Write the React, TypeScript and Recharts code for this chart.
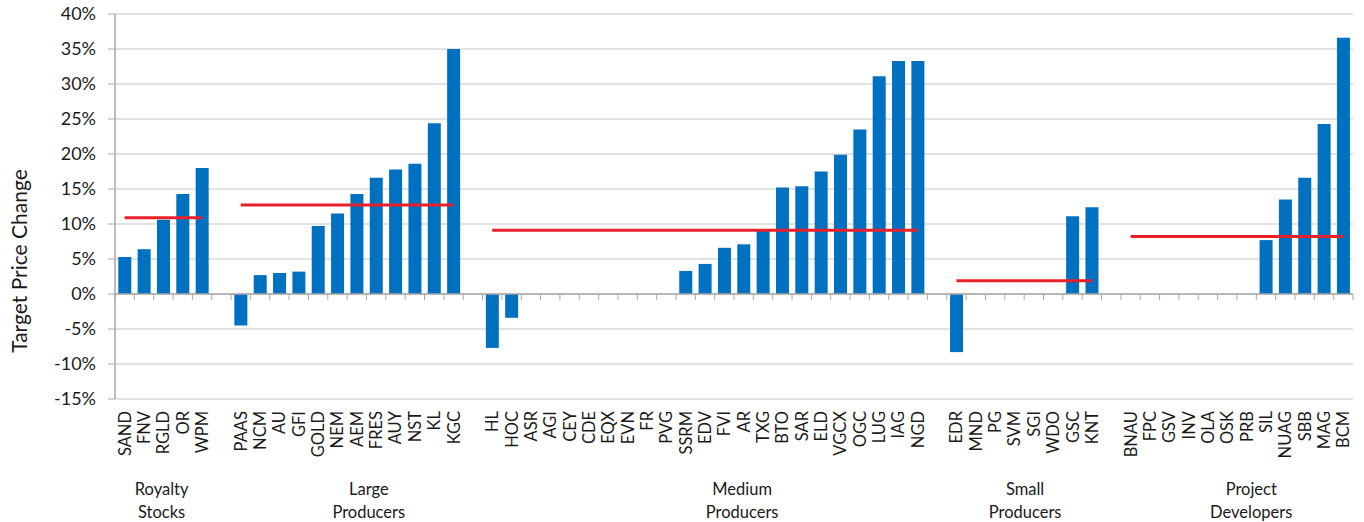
import React from 'react';
import {
  ComposedChart,
  Bar,
  Line,
  XAxis,
  YAxis,
  CartesianGrid,
  ReferenceLine,
} from 'recharts';

// Target price change (%) by company, grouped by company type
const royaltyTickers = ['SAND', 'FNV', 'RGLD', 'OR', 'WPM'];
const royaltyValues = [5.3, 6.4, 10.6, 14.3, 18.0];

const largeTickers = ['PAAS', 'NCM', 'AU', 'GFI', 'GOLD', 'NEM', 'AEM', 'FRES', 'AUY', 'NST', 'KL', 'KGC'];
const largeValues = [-4.5, 2.7, 3.0, 3.2, 9.7, 11.5, 14.3, 16.6, 17.8, 18.6, 24.4, 35.0];

const mediumTickers = [
  'HL', 'HOC', 'ASR', 'AGI', 'CEY', 'CDE', 'EQX', 'EVN', 'FR', 'PVG', 'SSRM', 'EDV',
  'FVI', 'AR', 'TXG', 'BTO', 'SAR', 'ELD', 'VGCX', 'OGC', 'LUG', 'IAG', 'NGD',
];
const mediumValues = [
  -7.7, -3.4, 0, 0, 0, 0, 0, 0, 0, 0, 3.3, 4.3,
  6.6, 7.1, 9.1, 15.2, 15.4, 17.5, 19.9, 23.5, 31.1, 33.3, 33.3,
];

const smallTickers = ['EDR', 'MND', 'PG', 'SVM', 'SGI', 'WDO', 'GSC', 'KNT'];
const smallValues = [-8.3, 0, 0, 0, 0, 0, 11.1, 12.4];

const developerTickers = ['BNAU', 'FPC', 'GSV', 'INV', 'OLA', 'OSK', 'PRB', 'SIL', 'NUAG', 'SBB', 'MAG', 'BCM'];
const developerValues = [0, 0, 0, 0, 0, 0, 0, 7.7, 13.5, 16.6, 24.3, 36.6];

// Group average target price change (%)
const groupAverages = [10.9, 12.7, 9.1, 1.9, 8.2];

const groupTitles = [
  ['Royalty', 'Stocks'],
  ['Large', 'Producers'],
  ['Medium', 'Producers'],
  ['Small', 'Producers'],
  ['Project', 'Developers'],
];

const yTicks = [-15, -10, -5, 0, 5, 10, 15, 20, 25, 30, 35, 40];

// Layout
const CHART_W = 1364;
const CHART_H = 522;
const MARGIN = { top: 14, right: 11, bottom: 8, left: 0 };
const Y_AXIS_W = 115;
const PLOT_W = CHART_W - MARGIN.left - MARGIN.right - Y_AXIS_W;
const FONT = 'Lato, "Open Sans", sans-serif';
const BAR_COLOR = '#0070C0';
const AVG_COLOR = '#E8202A';
const AXIS_COLOR = '#A9A9A9';
const GRID_COLOR = '#D9D9D9';
const TEXT_COLOR = '#1a1a1a';
// Centre of each group caption, in category slots from the left edge of the plot
const GROUP_CAPTION_SLOTS = [2.41, 13.12, 32.42, 47.05, 58.74];

const groups = [
  { tickers: royaltyTickers, values: royaltyValues },
  { tickers: largeTickers, values: largeValues },
  { tickers: mediumTickers, values: mediumValues },
  { tickers: smallTickers, values: smallValues },
  { tickers: developerTickers, values: developerValues },
];

type Row = { name: string; value: number | null; [k: string]: number | string | null };

// One row per company, with an empty slot between groups
const rows: Row[] = [];
groups.forEach((g, gi) => {
  if (gi > 0) rows.push({ name: '', value: null });
  g.tickers.forEach((t, i) => {
    const row: Row = { name: t, value: g.values[i] };
    row[`avg${gi}`] = groupAverages[gi];
    rows.push(row);
  });
});

const CATEGORY_COUNT = rows.length;
const BAND = PLOT_W / CATEGORY_COUNT;

// Ticker label, plus the group caption anchored to the category nearest to it
const CategoryTick = (props: any) => {
  const { x, y, payload, index } = props;
  const ty = y + 4;
  const gi = GROUP_CAPTION_SLOTS.findIndex((s) => Math.floor(s) === index);
  let caption = null;
  if (gi >= 0) {
    const cx = x + (GROUP_CAPTION_SLOTS[gi] - index - 0.5) * BAND;
    const [l1, l2] = groupTitles[gi];
    caption = (
      <text textAnchor="middle" fontFamily={FONT} fontSize={16.5} fill={TEXT_COLOR}>
        <tspan x={cx} y={y + 88}>{l1}</tspan>
        <tspan x={cx} y={y + 110.5}>{l2}</tspan>
      </text>
    );
  }
  return (
    <g>
      {payload && payload.value ? (
        <text
          x={x}
          y={ty}
          transform={`rotate(-90 ${x} ${ty})`}
          textAnchor="end"
          dominantBaseline="central"
          fontFamily={FONT}
          fontSize={16.5}
          fill={TEXT_COLOR}
        >
          {payload.value}
        </text>
      ) : null}
      {caption}
    </g>
  );
};

// Horizontal axis drawn through zero, with tick marks between categories
const ZeroAxis = (props: any) => {
  const { x1, y1, x2 } = props;
  const step = (x2 - x1) / CATEGORY_COUNT;
  const marks = [];
  for (let i = 0; i <= CATEGORY_COUNT; i++) {
    const mx = x1 + i * step;
    marks.push(<line key={i} x1={mx} y1={y1} x2={mx} y2={y1 + 6} stroke={AXIS_COLOR} strokeWidth={1} />);
  }
  return (
    <g>
      <line x1={x1} y1={y1} x2={x2} y2={y1} stroke={AXIS_COLOR} strokeWidth={1.5} />
      {marks}
    </g>
  );
};

const YTitle = () => (
  <text
    x={18.5}
    y={CHART_H / 2}
    transform={`rotate(-90 18.5 ${CHART_H / 2})`}
    textAnchor="middle"
    dominantBaseline="central"
    fontFamily={FONT}
    fontSize={21}
    fill={TEXT_COLOR}
  >
    Target Price Change
  </text>
);

export default function App() {
  return (
    <div style={{ width: CHART_W, height: CHART_H, background: '#fff' }}>
      <style>{'body{margin:0;background:#fff}'}</style>
      <ComposedChart
        width={CHART_W}
        height={CHART_H}
        data={rows}
        margin={MARGIN}
        barCategoryGap="17%"
      >
        <CartesianGrid horizontal vertical={false} stroke={GRID_COLOR} strokeWidth={1.5} />
        <XAxis
          dataKey="name"
          interval={0}
          tickLine={false}
          axisLine={false}
          height={115}
          tick={<CategoryTick />}
        />
        <YAxis
          width={Y_AXIS_W}
          domain={[-15, 40]}
          ticks={yTicks}
          interval={0}
          allowDataOverflow
          tickFormatter={(v: number) => `${v}%`}
          tick={{ fontFamily: FONT, fontSize: 18, fill: TEXT_COLOR }}
          tickSize={7}
          tickMargin={12}
          tickLine={{ stroke: AXIS_COLOR }}
          axisLine={{ stroke: AXIS_COLOR, strokeWidth: 1.5 }}
          label={<YTitle />}
        />
        <Bar dataKey="value" fill={BAR_COLOR} isAnimationActive={false} />
        <ReferenceLine y={0} shape={(p: any) => <ZeroAxis {...p} />} />
        {groupAverages.map((_, gi) => (
          <Line
            key={gi}
            dataKey={`avg${gi}`}
            stroke={AVG_COLOR}
            strokeWidth={3}
            dot={false}
            activeDot={false}
            connectNulls={false}
            isAnimationActive={false}
          />
        ))}
      </ComposedChart>
    </div>
  );
}
